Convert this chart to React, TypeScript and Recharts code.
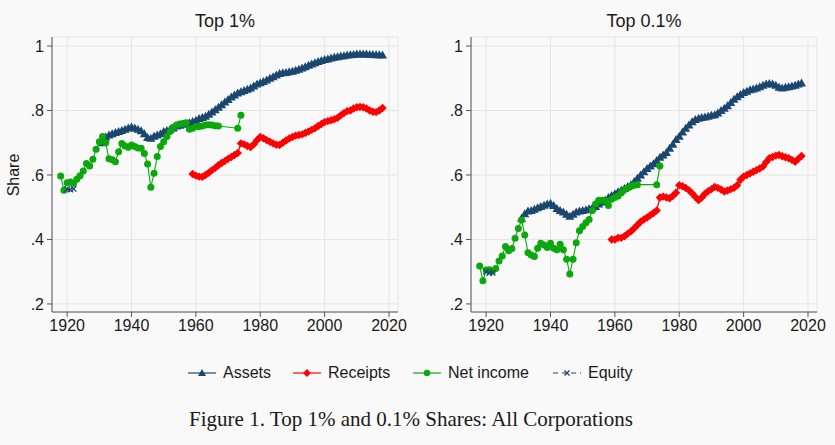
import React from 'react';
import { LineChart, Line, XAxis, YAxis, CartesianGrid } from 'recharts';

// years
const range = (a: number, b: number) => Array.from({ length: b - a + 1 }, (_, i) => a + i);
const assetYears = range(1931, 2018);
const receiptYears = range(1959, 2018);
const netIncomeYears = [...range(1918, 1967), 1973, 1974];
const equityYears = [1920, 1921, 1922];

// Top 1%
const assetsTop1 = [
  0.700, 0.718, 0.724, 0.728, 0.732, 0.735, 0.738, 0.742, 0.746, 0.749,
  0.746, 0.742, 0.737, 0.728, 0.716, 0.714, 0.720, 0.724, 0.728, 0.735,
  0.738, 0.742, 0.746, 0.752, 0.754, 0.757, 0.760, 0.762, 0.766, 0.770,
  0.775, 0.778, 0.782, 0.788, 0.795, 0.802, 0.810, 0.818, 0.826, 0.834,
  0.842, 0.848, 0.854, 0.858, 0.862, 0.866, 0.870, 0.876, 0.882, 0.886,
  0.890, 0.895, 0.900, 0.905, 0.910, 0.915, 0.917, 0.918, 0.920, 0.922,
  0.925, 0.928, 0.932, 0.936, 0.940, 0.944, 0.948, 0.952, 0.955, 0.958,
  0.960, 0.963, 0.965, 0.967, 0.969, 0.970, 0.972, 0.973, 0.974, 0.975,
  0.975, 0.975, 0.975, 0.974, 0.974, 0.973, 0.973, 0.972,
];
const receiptsTop1 = [
  0.603, 0.598, 0.595, 0.594, 0.600, 0.607, 0.615, 0.622, 0.630, 0.637,
  0.643, 0.650, 0.656, 0.662, 0.668, 0.698, 0.695, 0.690, 0.687, 0.695,
  0.708, 0.718, 0.714, 0.708, 0.703, 0.698, 0.694, 0.693, 0.700, 0.707,
  0.713, 0.718, 0.722, 0.724, 0.726, 0.730, 0.735, 0.740, 0.745, 0.752,
  0.758, 0.764, 0.767, 0.770, 0.773, 0.777, 0.785, 0.792, 0.798, 0.800,
  0.806, 0.810, 0.811, 0.810, 0.806, 0.800, 0.796, 0.795, 0.800, 0.808,
];
const netIncomeTop1 = [
  0.597, 0.553, 0.576, 0.578, 0.574, 0.587, 0.598, 0.612, 0.636, 0.628,
  0.649, 0.680, 0.703, 0.719, 0.700, 0.650, 0.647, 0.641, 0.672, 0.698,
  0.690, 0.686, 0.693, 0.688, 0.684, 0.683, 0.667, 0.634, 0.562, 0.605,
  0.657, 0.688, 0.703, 0.719, 0.735, 0.748, 0.755, 0.758, 0.760, 0.762,
  0.742, 0.745, 0.750, 0.750, 0.752, 0.755, 0.756, 0.755, 0.753, 0.752,
  0.745, 0.785,
];
const equityTop1 = [0.556, 0.555, 0.557];

// Top 0.1%
const assetsTop01 = [
  0.466, 0.480, 0.488, 0.490, 0.494, 0.498, 0.502, 0.506, 0.510, 0.512,
  0.505, 0.496, 0.490, 0.485, 0.478, 0.472, 0.478, 0.485, 0.488, 0.490,
  0.492, 0.495, 0.498, 0.502, 0.510, 0.516, 0.522, 0.530, 0.536, 0.542,
  0.548, 0.553, 0.558, 0.564, 0.570, 0.580, 0.590, 0.600, 0.610, 0.620,
  0.628, 0.635, 0.645, 0.655, 0.662, 0.670, 0.683, 0.695, 0.710, 0.720,
  0.733, 0.745, 0.755, 0.765, 0.772, 0.776, 0.778, 0.780, 0.782, 0.785,
  0.787, 0.792, 0.800, 0.807, 0.815, 0.825, 0.835, 0.843, 0.850, 0.856,
  0.860, 0.864, 0.867, 0.870, 0.874, 0.878, 0.882, 0.884, 0.882, 0.878,
  0.872, 0.870, 0.872, 0.874, 0.876, 0.878, 0.882, 0.885,
];
const receiptsTop01 = [
  0.400, 0.400, 0.405, 0.405, 0.410, 0.418, 0.425, 0.435, 0.445, 0.455,
  0.462, 0.468, 0.475, 0.482, 0.490, 0.530, 0.533, 0.530, 0.528, 0.535,
  0.545, 0.568, 0.565, 0.560, 0.553, 0.543, 0.532, 0.522, 0.530, 0.542,
  0.550, 0.556, 0.563, 0.560, 0.555, 0.549, 0.552, 0.556, 0.560, 0.568,
  0.585, 0.595, 0.600, 0.605, 0.610, 0.615, 0.620, 0.626, 0.640, 0.652,
  0.656, 0.660, 0.662, 0.658, 0.655, 0.652, 0.647, 0.641, 0.650, 0.659,
];
const netIncomeTop01 = [
  0.318, 0.272, 0.305, 0.306, 0.302, 0.310, 0.333, 0.349, 0.378, 0.365,
  0.372, 0.404, 0.434, 0.460, 0.414, 0.359, 0.352, 0.347, 0.373, 0.388,
  0.383, 0.375, 0.388, 0.373, 0.368, 0.385, 0.368, 0.339, 0.293, 0.339,
  0.390, 0.427, 0.440, 0.452, 0.462, 0.490, 0.510, 0.522, 0.522, 0.520,
  0.505, 0.525, 0.530, 0.535, 0.545, 0.555, 0.560, 0.565, 0.568, 0.570,
  0.570, 0.628,
];
const equityTop01 = [0.300, 0.296, 0.297];

const yTicks = [0.2, 0.4, 0.6, 0.8, 1];
const xTicks = [1920, 1940, 1960, 1980, 2000, 2020];

const NAVY = '#1a476f';
const RED = '#ff0000';
const GREEN = '#0aa80a';

const toRows = (years: number[], vals: number[]) => years.map((year, i) => ({ year, v: vals[i] }));

const Triangle = (p: any) => {
  const { cx, cy, index } = p;
  if (cx == null || cy == null) return null;
  return <polygon key={`t${index}`} points={`${cx},${cy - 4.5} ${cx - 4.5},${cy + 3.5} ${cx + 4.5},${cy + 3.5}`} fill={NAVY} />;
};
const Diamond = (p: any) => {
  const { cx, cy, index } = p;
  if (cx == null || cy == null) return null;
  return <polygon key={`d${index}`} points={`${cx},${cy - 4.2} ${cx + 4.2},${cy} ${cx},${cy + 4.2} ${cx - 4.2},${cy}`} fill={RED} />;
};
const Circle = (p: any) => {
  const { cx, cy, index } = p;
  if (cx == null || cy == null) return null;
  return <circle key={`c${index}`} cx={cx} cy={cy} r={3.5} fill={GREEN} />;
};
const Cross = (p: any) => {
  const { cx, cy, index } = p;
  if (cx == null || cy == null) return null;
  return (
    <g key={`x${index}`} stroke={NAVY} strokeWidth={1.3}>
      <line x1={cx - 2.8} y1={cy - 2.8} x2={cx + 2.8} y2={cy + 2.8} />
      <line x1={cx - 2.8} y1={cy + 2.8} x2={cx + 2.8} y2={cy - 2.8} />
    </g>
  );
};

const fmtY = (v: number) => (v === 1 ? '1' : v.toFixed(1).replace(/^0/, ''));

interface PanelProps {
  assets: number[];
  receipts: number[];
  netIncome: number[];
  equity: number[];
  left: number;
  marginLeft: number;
  marginRight: number;
}

const Panel = ({ assets, receipts, netIncome, equity, left, marginLeft, marginRight }: PanelProps) => (
  <div style={{ position: 'absolute', left, top: 0 }}>
    <LineChart width={410} height={345} margin={{ top: 37, right: marginRight, bottom: 0, left: marginLeft }}>
      <CartesianGrid stroke="#e4e4e4" strokeWidth={1} />
      <XAxis
        type="number"
        dataKey="year"
        domain={[1915.3, 2022.8]}
        ticks={xTicks}
        allowDataOverflow
        height={33}
        tickSize={5}
        tickMargin={3}
        axisLine={{ stroke: '#555' }}
        tickLine={{ stroke: '#555' }}
        tick={{ fontSize: 16, fill: '#1a1a1a' }}
      />
      <YAxis
        type="number"
        dataKey="v"
        domain={[0.175, 1.028]}
        ticks={yTicks}
        allowDataOverflow
        width={40}
        tickSize={5}
        tickMargin={3}
        tickFormatter={fmtY}
        axisLine={{ stroke: '#555' }}
        tickLine={{ stroke: '#555' }}
        tick={{ fontSize: 16, fill: '#1a1a1a' }}
      />
      <Line data={toRows(assetYears, assets)} dataKey="v" stroke={NAVY} strokeWidth={1.3} dot={Triangle} isAnimationActive={false} />
      <Line data={toRows(receiptYears, receipts)} dataKey="v" stroke={RED} strokeWidth={1.3} dot={Diamond} isAnimationActive={false} />
      <Line data={toRows(netIncomeYears, netIncome)} dataKey="v" stroke={GREEN} strokeWidth={1.1} dot={Circle} isAnimationActive={false} />
      <Line data={toRows(equityYears, equity)} dataKey="v" stroke={NAVY} strokeWidth={1} strokeDasharray="4 3" dot={Cross} isAnimationActive={false} />
    </LineChart>
  </div>
);

const legendItems = [
  { name: 'Assets', x: 188, marker: 'tri', color: NAVY, dash: false },
  { name: 'Receipts', x: 293, marker: 'dia', color: RED, dash: false },
  { name: 'Net income', x: 413, marker: 'circ', color: GREEN, dash: false },
  { name: 'Equity', x: 553, marker: 'cross', color: NAVY, dash: true },
];

const LegendMarker = ({ marker, color, dash }: { marker: string; color: string; dash: boolean }) => {
  const cx = 14;
  const cy = 8;
  let m: React.ReactNode = null;
  if (marker === 'tri') m = <polygon points={`${cx},${cy - 4} ${cx - 4},${cy + 3} ${cx + 4},${cy + 3}`} fill={color} />;
  if (marker === 'dia') m = <polygon points={`${cx},${cy - 4} ${cx + 4},${cy} ${cx},${cy + 4} ${cx - 4},${cy}`} fill={color} />;
  if (marker === 'circ') m = <circle cx={cx} cy={cy} r={3.2} fill={color} />;
  if (marker === 'cross')
    m = (
      <g stroke={color} strokeWidth={1.2}>
        <line x1={cx - 2.5} y1={cy - 2.5} x2={cx + 2.5} y2={cy + 2.5} />
        <line x1={cx - 2.5} y1={cy + 2.5} x2={cx + 2.5} y2={cy - 2.5} />
      </g>
    );
  return (
    <svg width={28} height={16} style={{ display: 'block' }}>
      <line x1={0} y1={cy} x2={28} y2={cy} stroke={color} strokeWidth={1.2} strokeDasharray={dash ? '5 4' : undefined} />
      {m}
    </svg>
  );
};

export default function App() {
  return (
    <div
      style={{
        position: 'absolute',
        left: 0,
        top: 0,
        width: 835,
        height: 445,
        background: '#f9f9f9',
        fontFamily: '"Liberation Sans", Arial, sans-serif',
        color: '#1a1a1a',
        overflow: 'hidden',
      }}
    >
      <Panel assets={assetsTop1} receipts={receiptsTop1} netIncome={netIncomeTop1} equity={equityTop1} left={0} marginLeft={12} marginRight={12} />
      <Panel assets={assetsTop01} receipts={receiptsTop01} netIncome={netIncomeTop01} equity={equityTop01} left={420} marginLeft={11} marginRight={13} />

      <div style={{ position: 'absolute', left: 125, width: 200, top: 11, textAlign: 'center', fontSize: 18 }}>Top 1%</div>
      <div style={{ position: 'absolute', left: 544, width: 200, top: 11, textAlign: 'center', fontSize: 18 }}>Top 0.1%</div>

      <div
        style={{
          position: 'absolute',
          left: 14,
          top: 175,
          fontSize: 16,
          transform: 'translate(-50%, -50%) rotate(-90deg)',
          whiteSpace: 'nowrap',
        }}
      >
        Share
      </div>

      {legendItems.map((it) => (
        <div key={it.name} style={{ position: 'absolute', left: it.x, top: 364, display: 'flex', alignItems: 'center', fontSize: 16 }}>
          <LegendMarker marker={it.marker} color={it.color} dash={it.dash} />
          <span style={{ marginLeft: 7 }}>{it.name}</span>
        </div>
      ))}

      <div
        style={{
          position: 'absolute',
          left: 0,
          width: 822,
          top: 407,
          textAlign: 'center',
          fontSize: 21,
          fontFamily: '"Liberation Serif", "DejaVu Serif", serif',
        }}
      >
        Figure 1. Top 1% and 0.1% Shares: All Corporations
      </div>
    </div>
  );
}
